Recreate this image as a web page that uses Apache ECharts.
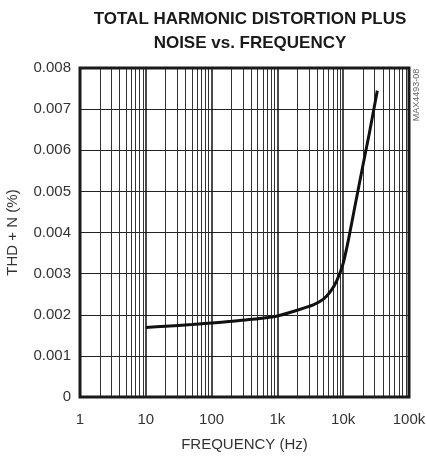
<!DOCTYPE html>
<html>
<head>
<meta charset="utf-8">
<script src="https://cdn.jsdelivr.net/npm/echarts@6/dist/echarts.min.js"></script>
<style>
	html, body { margin: 0; padding: 0; background: #fff; }
	#graf_content { width: 426px; height: 459px; }
</style>
</head>
<body>
<div id="graf_content"></div>
<script>
// frequency (Hz)
let freqList = [10, 20, 50, 100, 200, 500, 1000, 2000, 3500, 5000, 6500, 8000, 10000, 12000, 15000, 20000, 25000, 33000];
// THD+N (%) for each frequency
let thdList = [0.00169, 0.00172, 0.00176, 0.00180, 0.00184, 0.00190, 0.00197, 0.00211, 0.00224, 0.00238, 0.00258, 0.00283, 0.00325, 0.00382, 0.00462, 0.00564, 0.00642, 0.00745];
// tick labels
let xTickList = ['1', '10', '100', '1k', '10k', '100k'];
let yTickList = ['0', '0.001', '0.002', '0.003', '0.004', '0.005', '0.006', '0.007', '0.008'];

let font = '"Liberation Sans Narrow", "Liberation Sans", sans-serif';

// curve points
let lineData = [];
for(let i = 0; i < freqList.length; i++){
	lineData.push([freqList[i], thdList[i]]);
}

// minor grid lines 2..9 of each decade
let minorLines = [];
for(let d = 1; d < 100000; d *= 10){
	for(let k = 2; k <= 9; k++){
		minorLines.push({xAxis: d * k});
	}
}

var myChart = echarts.init(document.getElementById('graf_content'));

var option = {
	animation: false,
	title: {
		text: 'TOTAL HARMONIC DISTORTION PLUS\nNOISE vs. FREQUENCY',
		left: 245,
		top: 2,
		textAlign: 'center',
		textStyle: {
			fontFamily: font,
			fontWeight: 'bold',
			fontSize: 17,
			lineHeight: 24,
			color: '#1a1a1a'
		}
	},
	graphic: [
		{
			type: 'text',
			x: 417,
			y: 95,
			rotation: Math.PI / 2,
			style: {
				text: 'MAX4493-08',
				font: '9px ' + font,
				fill: '#666',
				align: 'center',
				verticalAlign: 'middle'
			}
		}
	],
	grid: {
		left: 80,
		right: 17,
		top: 68,
		bottom: 62,
		outerBoundsMode: 'none',
		containLabel: false,
		show: true,
		borderColor: '#1a1a1a',
		borderWidth: 3,
		z: 10
	},
	xAxis: {
		type: 'log',
		logBase: 10,
		min: 1,
		max: 100000,
		name: 'FREQUENCY (Hz)',
		nameLocation: 'middle',
		nameGap: 40,
		nameTextStyle: { fontFamily: font, fontSize: 15, color: '#333' },
		axisLine: { show: false },
		axisTick: { show: false },
		axisLabel: {
			margin: 15,
			fontFamily: font,
			fontSize: 15,
			color: '#333',
			formatter: function(v){
				let i = Math.round(Math.log10(v));
				return xTickList[i];
			}
		},
		splitLine: { show: true, lineStyle: { color: '#111', width: 1.5 } }
	},
	yAxis: {
		type: 'value',
		min: 0,
		max: 0.008,
		interval: 0.001,
		name: 'THD + N (%)',
		nameLocation: 'middle',
		nameGap: 60,
		nameTextStyle: { fontFamily: font, fontSize: 15, color: '#333' },
		axisLine: { show: false },
		axisTick: { show: false },
		axisLabel: {
			margin: 9,
			fontFamily: font,
			fontSize: 15,
			color: '#333',
			formatter: function(v){
				return yTickList[Math.round(v * 1000)];
			}
		},
		splitLine: { show: true, lineStyle: { color: '#222', width: 1 } }
	},
	series: [
		{
			name: 'THD+N',
			type: 'line',
			data: lineData,
			smooth: 0.2,
			showSymbol: false,
			lineStyle: { color: '#111', width: 3 },
			z: 5,
			markLine: {
				silent: true,
				symbol: 'none',
				label: { show: false },
				lineStyle: { color: '#333', width: 1, type: 'solid' },
				data: minorLines,
				z: 1
			}
		}
	]
};
myChart.setOption(option);
</script>
</body>
</html>
